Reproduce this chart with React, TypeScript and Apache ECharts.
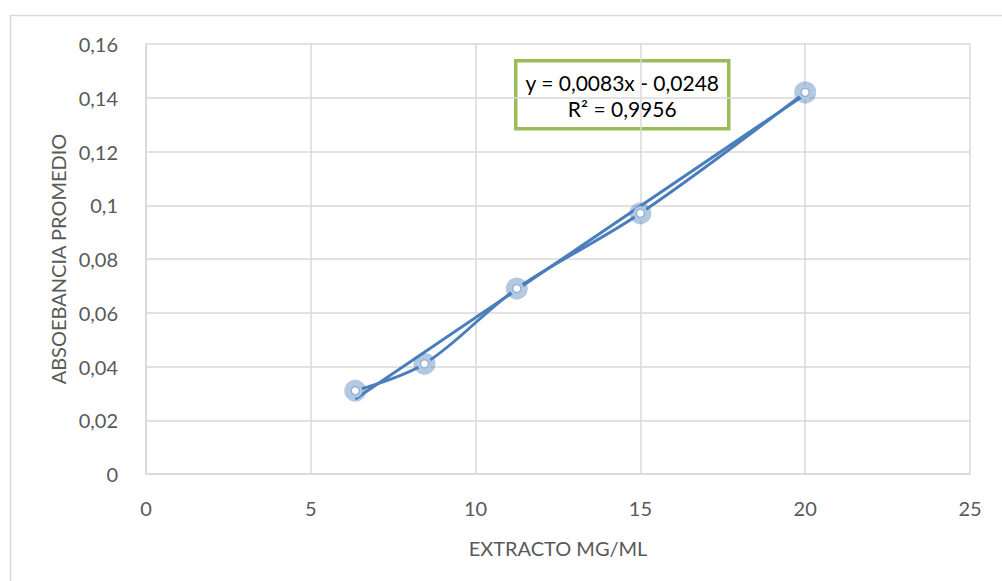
import React, { useEffect, useRef } from "react";
import * as echarts from "echarts";

// Concentration of extract (mg/mL) and mean absorbance
const extracto = [6.35, 8.45, 11.25, 15.0, 20.0];
const absorbancia = [0.031, 0.041, 0.069, 0.097, 0.142];

// Linear fit shown in the label
const pendiente = 0.0083;
const intercepto = -0.0248;
const ecuacion = "y = 0,0083x - 0,0248";
const r2 = "R² = 0,9956";

const xTicks = [0, 5, 10, 15, 20, 25];
const yTicks = [0, 0.02, 0.04, 0.06, 0.08, 0.1, 0.12, 0.14, 0.16];

const FONT = "Lato, 'Noto Sans', sans-serif";
const BLUE = "#4a7ebb";
const GRID = "#d9d9d9";

const fmt = (v: number) => String(Number(v.toFixed(4))).replace(".", ",");

export default function App() {
  const ref = useRef<HTMLDivElement>(null);

  useEffect(() => {
    if (!ref.current) return;
    const chart = echarts.init(ref.current, null, { renderer: "svg" });

    const xMin = Math.min(...extracto);
    const xMax = Math.max(...extracto);
    const tendencia = [
      [xMin, pendiente * xMin + intercepto],
      [xMax, pendiente * xMax + intercepto],
    ];
    const puntos = extracto.map((x, i) => [x, absorbancia[i]]);

    chart.setOption({
      animation: false,
      backgroundColor: "#ffffff",
      grid: { left: 146, right: 32, top: 44, bottom: 107, containLabel: false },
      xAxis: {
        type: "value",
        min: xTicks[0],
        max: xTicks[xTicks.length - 1],
        interval: 5,
        name: "EXTRACTO MG/ML",
        nameLocation: "middle",
        nameGap: 64,
        nameTextStyle: { color: "#595959", fontSize: 20, fontFamily: FONT },
        axisLine: { show: true, lineStyle: { color: GRID, width: 1.5 } },
        axisTick: { show: false },
        axisLabel: {
          color: "#595959",
          fontSize: 20,
          fontFamily: FONT,
          margin: 24,
          formatter: (v: number) => fmt(v),
        },
        splitLine: { show: true, lineStyle: { color: GRID, width: 1.5 } },
      },
      yAxis: {
        type: "value",
        min: yTicks[0],
        max: yTicks[yTicks.length - 1],
        interval: 0.02,
        name: "ABSOEBANCIA PROMEDIO",
        nameLocation: "middle",
        nameGap: 78,
        nameTextStyle: { color: "#595959", fontSize: 20, fontFamily: FONT },
        axisLine: { show: true, lineStyle: { color: GRID, width: 1.5 } },
        axisTick: { show: false },
        axisLabel: {
          color: "#595959",
          fontSize: 20,
          fontFamily: FONT,
          margin: 28,
          formatter: (v: number) => fmt(v),
        },
        splitLine: { show: true, lineStyle: { color: GRID, width: 1.5 } },
      },
      series: [
        {
          type: "line",
          name: "tendencia",
          data: tendencia,
          showSymbol: false,
          symbol: "none",
          lineStyle: { color: BLUE, width: 3 },
          z: 2,
        },
        {
          type: "line",
          name: "absorbancia",
          data: puntos,
          smooth: 0.35,
          symbol: "circle",
          symbolSize: 14,
          showSymbol: true,
          lineStyle: { color: BLUE, width: 3 },
          itemStyle: {
            color: "#ffffff",
            borderColor: "rgba(74,126,187,0.42)",
            borderWidth: 8,
          },
          z: 3,
        },
        {
          type: "scatter",
          name: "centro",
          data: puntos,
          symbol: "circle",
          symbolSize: 8,
          itemStyle: {
            color: "#ffffff",
            borderColor: "rgba(74,126,187,0.6)",
            borderWidth: 1.2,
          },
          z: 4,
        },
      ],
      graphic: [
        {
          type: "rect",
          left: 8,
          top: 13,
          shape: { width: 1000, height: 580 },
          style: { fill: "none", stroke: GRID, lineWidth: 1.5 },
          silent: true,
          z: -10,
        },
        {
          type: "group",
          left: 514,
          top: 59,
          children: [
            {
              type: "rect",
              shape: { x: 0, y: 0, width: 213, height: 68 },
              style: { fill: "#ffffff", stroke: "#9bbb59", lineWidth: 3.5 },
            },
            {
              type: "text",
              x: 106.5,
              y: 22,
              style: {
                text: ecuacion,
                fill: "#000000",
                font: `21px ${FONT}`,
                align: "center",
                verticalAlign: "middle",
              },
            },
            {
              type: "text",
              x: 106.5,
              y: 48,
              style: {
                text: r2,
                fill: "#000000",
                font: `21px ${FONT}`,
                align: "center",
                verticalAlign: "middle",
              },
            },
          ],
        },
      ],
    });

    return () => chart.dispose();
  }, []);

  return (
    <div
      ref={ref}
      style={{ position: "absolute", left: 0, top: 0, width: 1002, height: 581 }}
    />
  );
}
